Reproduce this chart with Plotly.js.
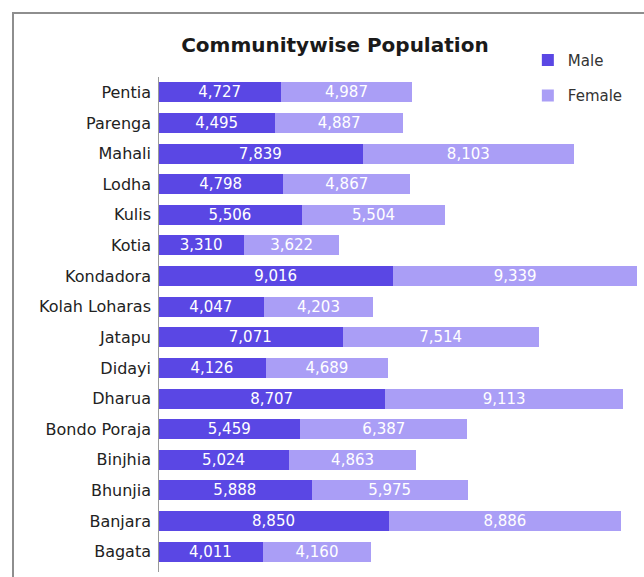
<!DOCTYPE html>
<html>
<head>
<meta charset="utf-8">
<script src="https://cdn.plot.ly/plotly-3.0.1.min.js"></script>
<style>
  html, body { margin: 0; padding: 0; background: #ffffff; overflow: hidden; }
  #frame { position: absolute; left: 12px; top: 12px; width: 700px; height: 600px;
           border-left: 2px solid #8e8e8e; border-top: 2px solid #8e8e8e; }
  #chart { position: absolute; left: 0; top: 0; width: 644px; height: 577px; }
</style>
</head>
<body>
<div id="frame"></div>
<div id="chart"></div>
<script>
const categories = ["Pentia", "Parenga", "Mahali", "Lodha", "Kulis", "Kotia", "Kondadora",
  "Kolah Loharas", "Jatapu", "Didayi", "Dharua", "Bondo Poraja", "Binjhia", "Bhunjia",
  "Banjara", "Bagata"];
const male = [4727, 4495, 7839, 4798, 5506, 3310, 9016, 4047, 7071, 4126, 8707, 5459, 5024, 5888, 8850, 4011];
const female = [4987, 4887, 8103, 4867, 5504, 3622, 9339, 4203, 7514, 4689, 9113, 6387, 4863, 5975, 8886, 4160];
const seriesNames = ["Male", "Female"];
const chartTitle = "Communitywise Population";

const font = "'DejaVu Sans', sans-serif";

const common = {
  type: "bar", orientation: "h", y: categories,
  textposition: "inside", insidetextanchor: "middle", texttemplate: "%{x:,}",
  textfont: { family: font, size: 15, color: "#ffffff" },
  hoverinfo: "skip", cliponaxis: false
};

const data = [
  Object.assign({}, common, { name: seriesNames[0], x: male, legendgroup: "m",
    marker: { color: "#5a47e4" } }),
  Object.assign({}, common, { name: seriesNames[1], x: female, legendgroup: "f",
    marker: { color: "#aa9ef6" } })
];

const layout = {
  width: 644, height: 577,
  margin: { l: 158, r: 0, t: 77, b: 10 },
  paper_bgcolor: "rgba(0,0,0,0)", plot_bgcolor: "rgba(0,0,0,0)",
  barmode: "stack", bargap: 0.35, uniformtext: { mode: "show", minsize: 15 },
  title: { text: "<b>" + chartTitle + "</b>", xref: "container", x: 0.52, xanchor: "center",
           yref: "container", y: 0.922, yanchor: "middle",
           font: { family: font, size: 20, color: "#1a1a1a" } },
  xaxis: { range: [0, 18621], visible: false, fixedrange: true },
  yaxis: { type: "category", autorange: "reversed", showgrid: false, zeroline: false,
           showline: false, ticks: "", ticklabelstandoff: 6,
           tickfont: { family: font, size: 16, color: "#222222" } },
  showlegend: true,
  legend: { x: 0.761, xanchor: "left", y: 1.068, yanchor: "top", traceorder: "grouped",
            tracegroupgap: 13, font: { family: font, size: 15, color: "#333333" },
            bgcolor: "rgba(0,0,0,0)" },
  shapes: [{ type: "line", xref: "x", yref: "paper", x0: 0, x1: 0, y0: -0.01, y1: 1.0,
             line: { color: "#9a9a9a", width: 2 } }]
};

Plotly.newPlot("chart", data, layout, { displayModeBar: false, staticPlot: true });
</script>
</body>
</html>
